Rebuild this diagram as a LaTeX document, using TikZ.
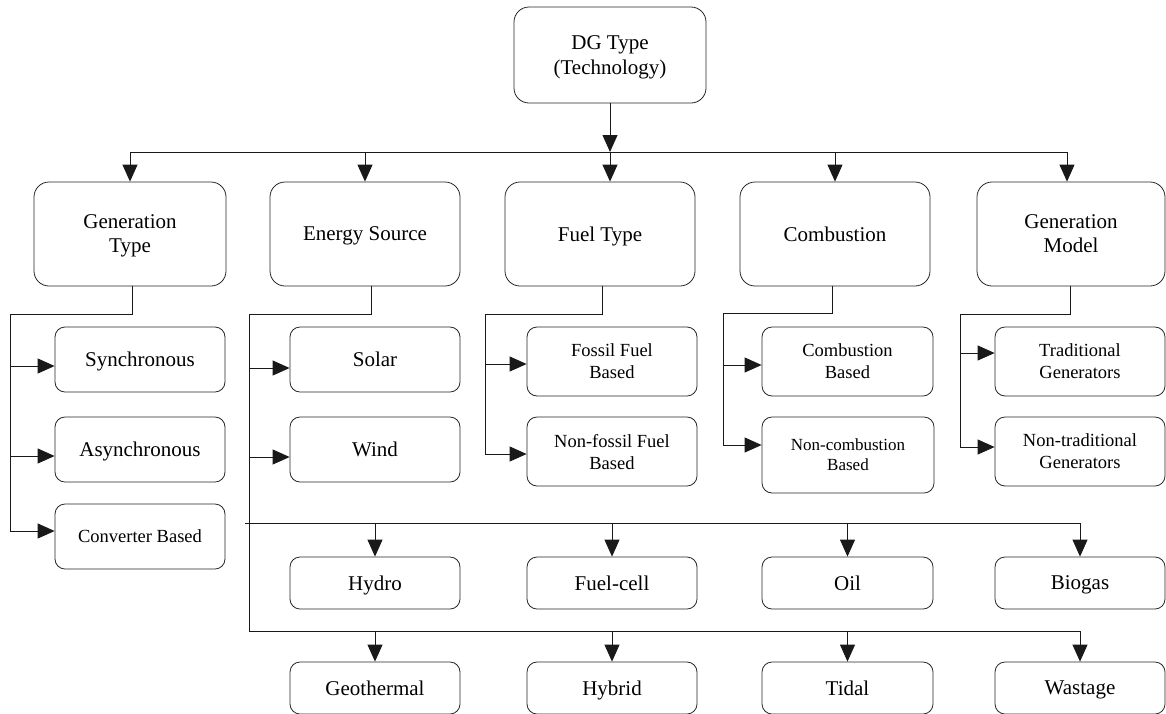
\documentclass[tikz,border=0pt]{standalone}
\usepackage{fontspec}
\setmainfont{Liberation Serif}
\usetikzlibrary{arrows.meta}
\begin{document}
\begin{tikzpicture}[x=1pt,y=-1pt,
  base/.style={draw=black!85, line width=0.8pt, align=center, inner sep=0pt,
    text depth=0pt, font=\fontsize{21}{24}\selectfont},
  bigbox/.style={base, rounded corners=15pt, minimum width=190pt, minimum height=104pt},
  leaf/.style={base, rounded corners=10pt, minimum width=170pt, minimum height=65pt},
  tallleaf/.style={leaf, minimum height=69pt, font=\fontsize{18.5}{22}\selectfont},
  lowleaf/.style={leaf, minimum height=52pt},
  wire/.style={draw=black!90, line width=0.9pt},
  arr/.style={wire, -{Triangle[length=17pt,width=15pt]}}
]
\useasboundingbox (0,0) rectangle (1166,713);
\clip (0,0) rectangle (1166,713);

% root
\node[bigbox, minimum width=192pt, minimum height=96pt,
      font=\fontsize{21}{25}\selectfont] (dg) at (610,55) {DG Type\\(Technology)};

% classification criteria
\node[bigbox, minimum width=192pt] (gt) at (130,234) {Generation\\Type};
\node[bigbox] (es) at (365,234) {Energy Source};
\node[bigbox] (ft) at (600,234) {Fuel Type};
\node[bigbox] (cb) at (835,234) {Combustion};
\node[bigbox, minimum width=188pt] (gm) at (1071,234) {Generation\\Model};

% generation type
\node[leaf] (sync) at (140,359.5) {Synchronous};
\node[leaf] (async) at (140,449.5) {Asynchronous};
\node[leaf, font=\fontsize{18.5}{22}\selectfont] (conv) at (140,536.5) {Converter Based};

% energy source
\node[leaf] (solar) at (375,359.5) {Solar};
\node[leaf] (wind) at (375,449.5) {Wind};
\node[lowleaf] (hydro) at (375,583) {Hydro};
\node[lowleaf] (fuelcell) at (612,583) {Fuel-cell};
\node[lowleaf, minimum width=171pt] (oil) at (847.5,583) {Oil};
\node[lowleaf] (biogas) at (1080,583) {Biogas};
\node[lowleaf] (geo) at (375,688) {Geothermal};
\node[lowleaf] (hybrid) at (612,688) {Hybrid};
\node[lowleaf, minimum width=171pt] (tidal) at (847.5,688) {Tidal};
\node[lowleaf] (wastage) at (1080,688) {Wastage};

% fuel type
\node[tallleaf] (fossil) at (612,361.5) {Fossil Fuel\\Based};
\node[tallleaf] (nonfossil) at (612,451.5) {Non-fossil Fuel\\Based};

% combustion
\node[tallleaf, minimum width=171pt] (comb) at (847.5,361.5) {Combustion\\Based};
\node[tallleaf, minimum width=172pt, minimum height=76pt,
      font=\fontsize{17}{20}\selectfont] (noncomb) at (848,455) {Non-combustion\\Based};

% generation model
\node[tallleaf] (trad) at (1080,361.5) {Traditional\\Generators};
\node[tallleaf] (nontrad) at (1080,451.5) {Non-traditional\\Generators};

% bus lines and branch points
\coordinate (topbus) at (610,152);
\coordinate (gtx) at (10,314);
\coordinate (esx) at (249,314);
\coordinate (bustwo) at (249,523);
\coordinate (busthree) at (249,631);
\coordinate (ftx) at (485,314);
\coordinate (cbx) at (723,313);
\coordinate (gmx) at (960,314);

% arrow entry points on the leaf boxes
\coordinate (syncin) at ([yshift=-6.5pt]sync.west);
\coordinate (asyncin) at ([yshift=-6.5pt]async.west);
\coordinate (convin) at ([yshift=5.5pt]conv.west);
\coordinate (solarin) at ([yshift=-8.5pt]solar.west);
\coordinate (windin) at ([yshift=-7.5pt]wind.west);
\coordinate (fossilin) at ([yshift=-2.5pt]fossil.west);
\coordinate (nonfossilin) at ([yshift=-2.5pt]nonfossil.west);
\coordinate (combin) at ([yshift=-3.5pt]comb.west);
\coordinate (noncombin) at ([yshift=10pt]noncomb.west);
\coordinate (tradin) at ([yshift=8.5pt]trad.west);
\coordinate (nontradin) at ([yshift=4.5pt]nontrad.west);

% root to criteria
\draw[arr] (dg.south) -- (dg.south |- topbus);
\draw[wire] (gt.north |- topbus) -- ([xshift=-4pt]gm.north |- topbus);
\draw[arr] (gt.north |- topbus) -- (gt.north);
\draw[arr] (es.north |- topbus) -- (es.north);
\draw[arr] (dg.south |- topbus) -- (dg.south |- ft.north);
\draw[arr] (cb.north |- topbus) -- (cb.north);
\draw[arr] ([xshift=-4pt]gm.north |- topbus) -- ([xshift=-4pt]gm.north);

% generation type branch
\draw[wire] ([xshift=2pt]gt.south) |- (gtx) -- (gtx |- convin);
\draw[arr] (gtx |- syncin) -- (syncin);
\draw[arr] (gtx |- asyncin) -- (asyncin);
\draw[arr] (gtx |- convin) -- (convin);

% energy source branch
\draw[wire] ([xshift=6pt]es.south) |- (esx) -- (busthree) -- (busthree -| wastage.north);
\draw[wire] ([xshift=-4pt]bustwo) -- (bustwo -| biogas.north);
\draw[arr] (esx |- solarin) -- (solarin);
\draw[arr] (esx |- windin) -- (windin);
\draw[arr] (bustwo -| hydro.north) -- (hydro.north);
\draw[arr] (bustwo -| fuelcell.north) -- (fuelcell.north);
\draw[arr] (bustwo -| oil.north) -- (oil.north);
\draw[arr] (bustwo -| biogas.north) -- (biogas.north);
\draw[arr] (busthree -| geo.north) -- (geo.north);
\draw[arr] (busthree -| hybrid.north) -- (hybrid.north);
\draw[arr] (busthree -| tidal.north) -- (tidal.north);
\draw[arr] (busthree -| wastage.north) -- (wastage.north);

% fuel type branch
\draw[wire] ([xshift=2pt]ft.south) |- (ftx) -- (ftx |- nonfossilin);
\draw[arr] (ftx |- fossilin) -- (fossilin);
\draw[arr] (ftx |- nonfossilin) -- (nonfossilin);

% combustion branch
\draw[wire] ([xshift=-3pt]cb.south) |- (cbx) -- (cbx |- noncombin);
\draw[arr] (cbx |- combin) -- (combin);
\draw[arr] (cbx |- noncombin) -- (noncombin);

% generation model branch
\draw[wire] ([xshift=-1pt]gm.south) |- (gmx) -- (gmx |- nontradin);
\draw[arr] (gmx |- tradin) -- (tradin);
\draw[arr] (gmx |- nontradin) -- (nontradin);
\end{tikzpicture}
\end{document}
